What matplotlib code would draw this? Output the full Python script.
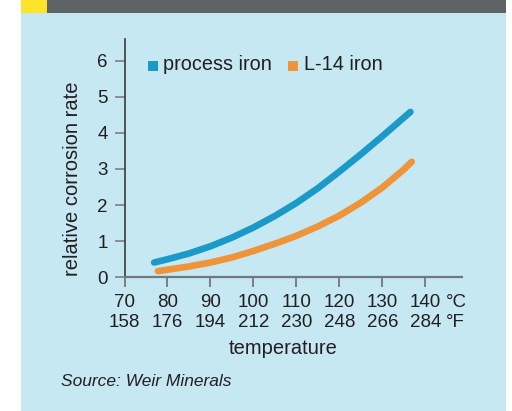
import matplotlib
matplotlib.use("Agg")
import matplotlib.pyplot as plt
from matplotlib.patches import Rectangle
from matplotlib.transforms import ScaledTranslation

# Data
temp_c_ticks = [70, 80, 90, 100, 110, 120, 130, 140]
temp_f_ticks = [158, 176, 194, 212, 230, 248, 266, 284]
y_ticks = [0, 1, 2, 3, 4, 5, 6]

process_temp = [76.9, 80, 85, 90, 95, 100, 105, 110, 115, 120, 125, 130, 136.5]
process_rate = [0.41, 0.50, 0.66, 0.86, 1.10, 1.38, 1.70, 2.06, 2.47, 2.93, 3.41, 3.91, 4.58]

l14_temp = [77.8, 80, 85, 90, 95, 100, 105, 110, 115, 120, 125, 130, 135, 136.8]
l14_rate = [0.17, 0.21, 0.30, 0.41, 0.55, 0.73, 0.93, 1.15, 1.41, 1.71, 2.07, 2.49, 2.99, 3.20]

series_names = ["process iron", "L-14 iron"]

# Styling
BLUE = "#1b9ac7"
ORANGE = "#f0943a"
PANEL = "#c5e8f3"
BAR = "#5e6366"
YELLOW = "#fde42b"
TEXT = "#231f20"
AXIS_GREY = "#6f797e"
FONT = ["Liberation Sans Narrow", "Liberation Sans", "DejaVu Sans"]
TICK_SIZE = 13.5

W, H = 512, 411
plt.rcParams["font.family"] = FONT

fig = plt.figure(figsize=(W / 100, H / 100), dpi=100)
fig.patch.set_facecolor("white")


def fx(px):
    return px / W


def fy(py):
    return 1 - py / H


# Background panel and header strip
fig.patches.append(Rectangle((fx(21), 0), fx(506) - fx(21), fy(13),
                             transform=fig.transFigure, facecolor=PANEL,
                             edgecolor="none", zorder=-3))
fig.patches.append(Rectangle((fx(21), fy(13)), fx(506) - fx(21), 1 - fy(13),
                             transform=fig.transFigure, facecolor=BAR,
                             edgecolor="none", zorder=-3))
fig.patches.append(Rectangle((fx(21), fy(13)), fx(47) - fx(21), 1 - fy(13),
                             transform=fig.transFigure, facecolor=YELLOW,
                             edgecolor="none", zorder=-2))

left, right, top, bottom = 124.5, 462, 39, 277.3
ax = fig.add_axes([fx(left), fy(bottom), fx(right) - fx(left), fy(top) - fy(bottom)])
ax.set_facecolor("none")
ax.set_zorder(1)

ax.plot(process_temp, process_rate, color=BLUE, lw=4.8, solid_capstyle="round",
        solid_joinstyle="round", zorder=3, clip_on=False)
ax.plot(l14_temp, l14_rate, color=ORANGE, lw=4.8, solid_capstyle="round",
        solid_joinstyle="round", zorder=3, clip_on=False)

ax.set_xlim(70, 148.5)
ax.set_ylim(0, 6.6)

for s in ["top", "right"]:
    ax.spines[s].set_visible(False)
ax.spines["bottom"].set_color(AXIS_GREY)
ax.spines["bottom"].set_linewidth(1.6)
ax.spines["left"].set_color("#3a3a3a")
ax.spines["left"].set_linewidth(1.2)

ax.set_yticks(y_ticks)
ax.set_yticklabels([str(v) for v in y_ticks])
ax.tick_params(axis="y", length=7, width=1.1, color=AXIS_GREY, pad=5,
               labelsize=TICK_SIZE, labelcolor=TEXT)

ax.set_xticks(temp_c_ticks)
ax.set_xticklabels([f"{c}\n{f}" for c, f in zip(temp_c_ticks, temp_f_ticks)],
                   linespacing=1.2)
ax.tick_params(axis="x", length=7, width=1.3, color=AXIS_GREY, pad=5,
               labelsize=TICK_SIZE, labelcolor=TEXT)

# Unit suffixes following the last tick label, on the same two text lines
unit_offset = ScaledTranslation(20 / 100, -(7 + 5) / 72, fig.dpi_scale_trans)
ax.text(temp_c_ticks[-1], 0, "°C\n°F", transform=ax.get_xaxis_transform() + unit_offset,
        ha="left", va="top", fontsize=TICK_SIZE, linespacing=1.2, color=TEXT)

# Axis titles
fig.text(fx(283), fy(348), "temperature", ha="center", va="center",
         fontsize=14.5, color=TEXT)
fig.text(fx(72), fy(179), "relative corrosion rate", ha="center", va="center",
         rotation=90, fontsize=14.5, color=TEXT)

# Legend
fig.patches.append(Rectangle((fx(147.5), fy(70.7)), fx(10), 10 / H,
                             transform=fig.transFigure, facecolor=BLUE,
                             edgecolor="none", zorder=5))
fig.text(fx(163), fy(65), series_names[0], ha="left", va="center",
         fontsize=14.3, color=TEXT)
fig.patches.append(Rectangle((fx(288), fy(70.7)), fx(10), 10 / H,
                             transform=fig.transFigure, facecolor=ORANGE,
                             edgecolor="none", zorder=5))
fig.text(fx(304), fy(65), series_names[1], ha="left", va="center",
         fontsize=14.3, color=TEXT)

# Source note
fig.text(fx(61), fy(381), "Source: Weir Minerals", ha="left", va="center",
         fontsize=12.5, style="italic", color=TEXT)

fig.savefig("out.png", dpi=100)
